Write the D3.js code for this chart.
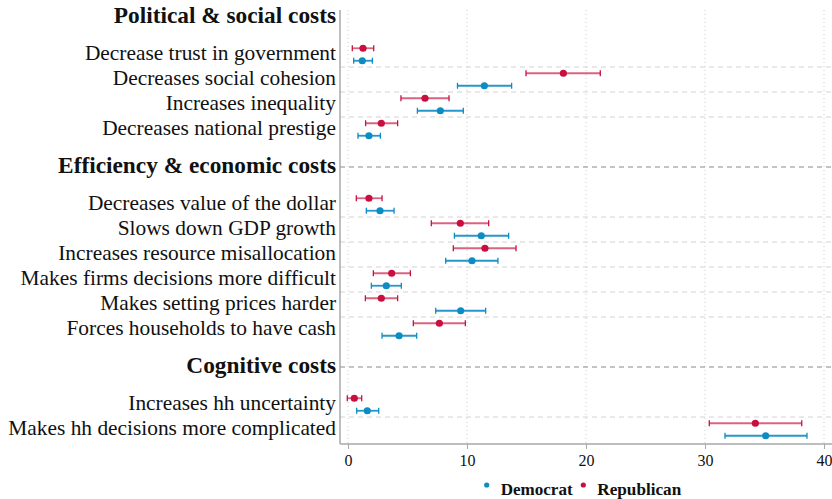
<!DOCTYPE html>
<html>
<head>
<meta charset="utf-8">
<script src="https://cdn.jsdelivr.net/npm/d3@7"></script>
<style>
  body { margin: 0; background: #fff; }
  svg { display: block; }
  text { font-family: "Liberation Serif", "DejaVu Serif", serif; fill: #111; }
</style>
</head>
<body>
<svg id="chart" width="832" height="499"></svg>
<script>
// ---- data ----
const groupTitles = ["Political & social costs", "Efficiency & economic costs", "Cognitive costs"];
const groupItems = [
  ["Decrease trust in government", "Decreases social cohesion", "Increases inequality", "Decreases national prestige"],
  ["Decreases value of the dollar", "Slows down GDP growth", "Increases resource misallocation",
   "Makes firms decisions more difficult", "Makes setting prices harder", "Forces households to have cash"],
  ["Increases hh uncertainty", "Makes hh decisions more complicated"]
];
// values in item order (all groups concatenated)
const repEst = [1.26, 18.1, 6.47, 2.80, 1.76, 9.44, 11.51, 3.67, 2.80, 7.68, 0.53, 34.23];
const repLo  = [0.36, 14.96, 4.45, 1.48, 0.70, 7.0, 8.85, 2.13, 1.46, 5.49, -0.06, 30.36];
const repHi  = [2.16, 21.2, 8.49, 4.17, 2.86, 11.82, 14.12, 5.24, 4.17, 9.86, 1.15, 38.13];
const demEst = [1.20, 11.46, 7.76, 1.76, 2.69, 11.2, 10.42, 3.22, 9.47, 4.29, 1.62, 35.1];
const demLo  = [0.48, 9.2, 5.83, 0.84, 1.54, 8.94, 8.21, 1.96, 7.37, 2.86, 0.73, 31.68];
const demHi  = [2.05, 13.75, 9.69, 2.72, 3.87, 13.5, 12.6, 4.48, 11.57, 5.77, 2.58, 38.57];
const xTicks = [0, 10, 20, 30, 40];
const seriesNames = ["Democrat", "Republican"];
const seriesColors = { Democrat: "#0d8cc4", Republican: "#c8103f" };

// ---- layout ----
const plotLeft = 340, plotRight = 832, plotTop = 10, plotBottom = 444;
const svg = d3.select("#chart");

const rows = [];
let pos = 0, k = 0;
groupTitles.forEach((t, g) => {
  rows.push({ type: "title", label: t, pos: pos, g: g });
  pos += 1.5;
  groupItems[g].forEach((lab, j) => {
    rows.push({ type: "item", label: lab, pos: pos, idx: k, g: g, j: j, last: j === groupItems[g].length - 1 });
    k++;
    pos += 1;
  });
  pos += 0.5;
});

const y = d3.scaleLinear().domain([0, 16.5]).range([17, 429.5]);
const x = d3.scaleLinear().domain([0, 40]).range([348, 824]);
const off = (y(1) - y(0)) * 0.25;

// vertical dotted grid
svg.append("g").selectAll("line").data(xTicks).join("line")
  .attr("x1", d => x(d)).attr("x2", d => x(d))
  .attr("y1", plotTop).attr("y2", plotBottom)
  .attr("stroke", "#cdcdcd").attr("stroke-width", 1).attr("stroke-dasharray", "1,3");

const items = rows.filter(r => r.type === "item");
svg.append("g").selectAll("line").data(items.filter(r => !r.last)).join("line")
  .attr("x1", plotLeft).attr("x2", plotRight)
  .attr("y1", d => y(d.pos + 0.5)).attr("y2", d => y(d.pos + 0.5))
  .attr("stroke", "#d2d2d2").attr("stroke-width", 1).attr("stroke-dasharray", "5,4");

const titles = rows.filter(r => r.type === "title");
svg.append("g").selectAll("line").data(titles.filter(r => r.g > 0)).join("line")
  .attr("x1", plotLeft).attr("x2", plotRight)
  .attr("y1", d => y(d.pos)).attr("y2", d => y(d.pos))
  .attr("stroke", "#8a8a8a").attr("stroke-width", 1).attr("stroke-dasharray", "5,4");

svg.append("line").attr("x1", plotLeft).attr("x2", plotLeft).attr("y1", plotTop).attr("y2", plotBottom)
  .attr("stroke", "#a8a8a8").attr("stroke-width", 1.5);
const xAxis = d3.axisBottom(x).tickValues(xTicks).tickSize(5).tickPadding(6).tickFormat(d3.format("d"));
const gx = svg.append("g").attr("transform", `translate(0,${plotBottom})`).call(xAxis);
gx.select(".domain").remove();
svg.append("line").attr("x1", plotLeft).attr("x2", plotRight).attr("y1", plotBottom).attr("y2", plotBottom)
  .attr("stroke", "#a8a8a8").attr("stroke-width", 1.5);
gx.selectAll(".tick line").attr("stroke", "#a8a8a8");
gx.selectAll(".tick text").attr("font-family", "Liberation Serif, serif").attr("font-size", 16).attr("fill", "#222");

const labelG = svg.append("g");
const itemLabels = labelG.selectAll("text.item").data(items).join("text")
  .attr("class", "item")
  .attr("x", 336).attr("y", d => y(d.pos) + 5.5)
  .attr("text-anchor", "end").attr("font-size", 16)
  .text(d => d.label);
const maxW = d3.max(itemLabels.nodes(), n => n.getComputedTextLength());
itemLabels.attr("font-size", 16 * 328 / maxW);

const titleLabels = labelG.selectAll("text.title").data(titles).join("text")
  .attr("class", "title")
  .attr("x", 336).attr("y", d => y(d.pos) + 5.5)
  .attr("text-anchor", "end").attr("font-weight", "bold").attr("font-size", 16)
  .text(d => d.label);
const tW = titleLabels.filter(d => d.g === 1).node().getComputedTextLength();
titleLabels.attr("font-size", 16 * 278 / tW);

const series = [
  { name: "Republican", est: repEst, lo: repLo, hi: repHi, dy: -off },
  { name: "Democrat", est: demEst, lo: demLo, hi: demHi, dy: off }
];
series.forEach(s => {
  const col = seriesColors[s.name];
  const data = items.map(r => ({ cy: y(r.pos) + s.dy, e: s.est[r.idx], l: s.lo[r.idx], h: s.hi[r.idx] }));
  const g = svg.append("g");
  g.selectAll("line.ci").data(data).join("line").attr("class", "ci")
    .attr("x1", d => x(d.l)).attr("x2", d => x(d.h)).attr("y1", d => d.cy).attr("y2", d => d.cy)
    .attr("stroke", col).attr("stroke-width", 1.8).attr("stroke-opacity", s.name === "Republican" ? 0.65 : 0.9);
  ["l", "h"].forEach(key => {
    g.selectAll("line.cap" + key).data(data).join("line").attr("class", "cap" + key)
      .attr("x1", d => x(d[key])).attr("x2", d => x(d[key]))
      .attr("y1", d => d.cy - 3).attr("y2", d => d.cy + 3)
      .attr("stroke", col).attr("stroke-width", 1.3);
  });
  g.selectAll("circle").data(data).join("circle")
    .attr("cx", d => x(d.e)).attr("cy", d => d.cy).attr("r", 3.6).attr("fill", col);
});

// legend
const legend = svg.append("g");
const legX = [486.7, 583.3];
const legW = [72, 84];
seriesNames.forEach((n, i) => {
  legend.append("circle").attr("cx", legX[i]).attr("cy", 485).attr("r", 2.6).attr("fill", seriesColors[n]);
  const t = legend.append("text").attr("x", legX[i] + 14).attr("y", 494.5)
    .attr("font-weight", "bold").attr("font-size", 14).text(n);
  const w = t.node().getComputedTextLength();
  t.attr("font-size", 14 * legW[i] / w);
});
</script>
</body>
</html>
